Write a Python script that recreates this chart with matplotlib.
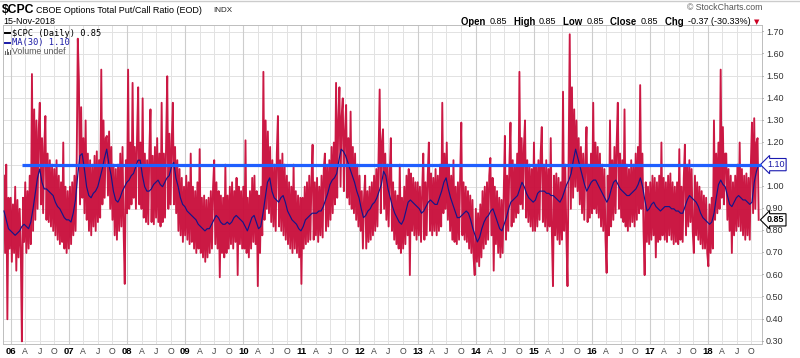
import datetime as dt
import numpy as np
import pandas as pd
import matplotlib
matplotlib.use("Agg")
import matplotlib.pyplot as plt
import matplotlib.dates as mdates
import matplotlib.transforms as mtransforms
from matplotlib.patches import Rectangle

# ---------------- data ----------------
start_date = "2005-11-18"
end_date = "2018-11-16"

# weekly samples of the daily $CPC put/call ratio (approximate envelope readings)
cpc_2005 = [1.05, 0.70, 1.10, 0.40, 0.95, 0.72]
cpc_2006 = [0.95, 0.66, 0.92, 0.70, 1.00, 0.62, 0.94, 0.68, 0.90, 0.72,
            0.30, 0.95, 0.75, 1.02, 0.70, 0.98, 0.72, 1.05, 0.74,
            1.51, 0.80, 1.35, 0.85, 1.30, 0.90, 1.25, 1.38, 0.92, 1.22, 0.88,
            1.18, 1.32, 0.85, 1.15, 0.84, 1.12, 0.82, 1.10, 0.80, 1.08, 0.78,
            1.12, 0.76, 1.05, 0.74, 1.02, 0.75, 1.20, 0.72, 1.00, 0.70, 0.98]
cpc_2007 = [0.72, 1.00, 0.74, 1.02, 0.78, 1.05, 0.80, 1.10, 1.67, 1.48,
            0.92, 1.36, 0.95, 1.22, 0.88, 1.30, 0.85, 1.15, 0.80, 1.12,
            0.78, 1.10, 0.82, 1.14, 0.80, 1.16, 0.84, 1.12, 0.86, 1.53,
            0.92, 1.30, 0.95, 1.22, 1.23, 0.96, 1.25, 0.90, 1.18, 0.85,
            1.10, 0.78, 1.08, 0.76, 1.10, 0.80, 1.15, 0.82, 1.18, 0.80,
            0.56, 1.12]
cpc_2008 = [0.88, 1.53, 0.90, 1.20, 0.92, 1.47, 0.95, 1.18, 0.90, 1.22,
            1.45, 0.92, 1.20, 0.90, 1.40, 0.86, 1.15, 0.84, 1.12, 0.83,
            1.16, 1.35, 0.84, 1.14, 0.83, 1.18, 0.86, 1.22, 0.84, 1.15,
            0.82, 1.38, 0.84, 1.15, 0.86, 1.20, 1.50, 0.90, 1.24, 0.92,
            1.20, 1.38, 0.92, 1.18, 0.88, 1.12, 0.80, 1.08, 0.78, 1.04,
            0.75, 1.00]
cpc_2009 = [0.78, 1.05, 0.76, 1.02, 0.74, 1.15, 0.75, 1.00, 0.72, 0.98,
            0.70, 1.02, 0.72, 1.17, 0.70, 0.95, 0.68, 0.96, 0.66, 0.94,
            0.68, 0.95, 0.70, 0.98, 0.72, 1.00, 1.12, 0.74, 1.02, 0.72,
            0.98, 0.59, 0.96, 0.70, 0.95, 0.68, 1.10, 0.70, 0.96, 0.72,
            1.00, 0.74, 1.02, 0.72, 0.98, 0.75, 1.04, 0.60, 1.00, 0.74,
            0.98, 0.72]
cpc_2010 = [1.00, 0.72, 1.21, 0.70, 0.95, 0.68, 0.98, 0.72, 1.04, 0.75,
            1.05, 0.74, 0.98, 0.55, 0.96, 0.70, 1.00, 0.78, 1.52, 0.85,
            1.30, 0.90, 1.25, 0.88, 1.18, 0.84, 1.12, 0.82, 1.10, 0.80,
            1.15, 1.32, 0.82, 1.12, 0.80, 1.15, 0.78, 1.10, 0.76, 1.05,
            0.74, 1.02, 0.72, 1.00, 0.70, 1.10, 0.72, 0.98, 0.70, 0.96,
            0.68, 0.95]
cpc_2011 = [0.56, 0.95, 0.72, 1.00, 0.74, 1.02, 0.75, 1.05, 0.76, 1.03,
            1.19, 0.76, 1.02, 0.78, 1.04, 0.75, 1.00, 0.78, 1.05, 0.77,
            1.08, 1.15, 0.80, 1.10, 0.82, 1.12, 0.85, 1.18, 0.88, 1.20,
            0.92, 1.47, 0.95, 1.30, 1.45, 1.00, 1.32, 1.40, 0.98, 1.25,
            1.37, 0.95, 1.22, 0.92, 1.34, 0.90, 1.18, 0.88, 1.15, 0.85,
            1.10, 0.82]
cpc_2012 = [1.05, 0.80, 0.98, 0.72, 0.95, 1.05, 0.72, 0.98, 0.75, 1.00,
            0.76, 1.02, 0.78, 1.05, 0.80, 1.08, 0.82, 1.12, 1.44, 0.88,
            1.20, 1.26, 0.90, 1.15, 0.85, 1.10, 0.82, 1.05, 1.22, 0.80,
            1.02, 0.76, 0.98, 0.74, 0.96, 0.72, 1.10, 0.70, 0.95, 0.72,
            1.00, 0.74, 1.05, 0.78, 1.08, 0.60, 1.06, 0.80, 1.04, 0.78,
            1.02, 0.76]
cpc_2013 = [1.02, 0.78, 1.00, 0.75, 0.98, 1.15, 0.76, 1.02, 0.78, 1.05,
            1.20, 0.80, 1.06, 0.78, 1.04, 0.80, 1.08, 0.78, 1.05, 0.80,
            1.10, 0.82, 1.38, 0.88, 1.15, 0.90, 1.20, 0.85, 1.10, 0.80,
            1.05, 0.76, 1.12, 0.75, 1.00, 0.74, 1.02, 0.76, 1.05, 1.29,
            0.78, 1.02, 0.76, 1.00, 0.75, 0.98, 0.72, 0.96, 0.70, 0.94,
            0.68, 0.60]
cpc_2014 = [0.90, 0.66, 0.88, 0.64, 0.92, 0.68, 0.98, 0.72, 1.00, 0.74,
            1.02, 0.76, 1.05, 1.13, 0.78, 1.04, 0.62, 1.00, 0.74, 0.98,
            0.70, 0.95, 0.68, 0.94, 0.70, 0.98, 1.23, 0.76, 1.05, 0.80,
            1.10, 1.29, 0.82, 1.12, 0.84, 1.10, 0.86, 1.15, 0.88, 1.52,
            0.92, 1.22, 0.90, 1.18, 1.30, 0.86, 1.12, 0.84, 1.10, 0.82,
            1.08, 0.80]
cpc_2015 = [1.20, 0.80, 1.10, 0.82, 1.12, 0.85, 1.15, 1.27, 0.84, 1.10,
            0.82, 1.12, 0.80, 1.08, 0.82, 1.22, 0.80, 0.55, 1.05, 0.78,
            1.06, 0.76, 1.04, 0.74, 1.02, 0.76, 1.43, 0.80, 1.10, 0.78,
            0.55, 1.12, 1.69, 0.90, 1.45, 0.95, 1.35, 1.00, 1.30, 0.98,
            1.22, 0.92, 1.18, 0.88, 1.15, 0.85, 1.12, 1.27, 0.84, 1.10,
            0.86, 1.15]
cpc_2016 = [0.88, 1.38, 0.90, 1.20, 0.88, 1.18, 0.86, 1.15, 0.82, 1.10,
            0.80, 1.08, 0.76, 0.61, 1.05, 0.78, 1.30, 0.82, 1.12, 0.85,
            1.18, 0.88, 1.20, 1.38, 0.90, 1.15, 0.86, 1.12, 0.84, 1.35,
            0.82, 1.10, 0.80, 1.08, 0.82, 1.12, 0.84, 1.10, 0.82, 1.15,
            0.85, 1.18, 0.88, 1.46, 0.90, 1.15, 0.80, 0.60, 1.02, 0.75,
            1.00, 0.74]
cpc_2017 = [1.02, 0.76, 1.05, 0.78, 1.04, 0.68, 1.02, 0.75, 1.05, 0.76,
            1.20, 0.78, 1.04, 0.76, 1.02, 0.75, 1.05, 0.78, 1.06, 0.76,
            1.02, 0.74, 1.00, 0.75, 1.02, 0.74, 1.17, 0.76, 1.00, 0.75,
            1.04, 1.19, 0.78, 1.10, 0.82, 1.12, 0.84, 1.08, 0.80, 0.70,
            1.05, 0.78, 1.02, 0.76, 1.00, 0.74, 0.98, 0.72, 0.96, 0.72,
            0.95, 0.70]
cpc_2018 = [0.64, 0.92, 0.70, 0.95, 0.72, 1.30, 0.85, 1.15, 0.88, 1.20,
            0.90, 1.53, 0.95, 1.27, 0.92, 1.15, 1.15, 0.85, 1.08, 0.80,
            1.05, 0.70, 1.02, 0.78, 1.05, 0.80, 1.10, 0.82, 1.20, 0.80,
            1.08, 0.78, 1.05, 0.76, 1.06, 0.78, 1.04, 0.76, 1.10, 1.29,
            0.88, 1.31, 0.90, 1.20, 1.22, 0.85]

# 30-day moving average, sampled every two weeks
ma_2005 = [0.89, 0.85, 0.81]
ma_2006 = [0.80, 0.79, 0.78, 0.79, 0.80, 0.82, 0.83, 0.82, 0.81, 0.84, 0.90, 0.97, 1.04,
           1.08, 1.02, 0.99, 0.99, 0.98, 0.97, 0.96, 0.93, 0.91, 0.90, 0.88, 0.86, 0.85]
ma_2007 = [0.85, 0.84, 0.88, 0.94, 1.05, 1.14, 1.15, 1.08, 1.00, 0.96, 0.95, 0.97, 0.98,
           1.00, 1.04, 1.08, 1.13, 1.17, 1.10, 1.05, 0.98, 0.94, 0.93, 0.95, 0.98, 1.00]
ma_2008 = [1.02, 1.03, 1.05, 1.06, 1.09, 1.12, 1.12, 1.05, 1.00, 0.98, 0.98, 0.99, 1.01,
           1.02, 1.03, 1.01, 1.00, 1.02, 1.04, 1.05, 1.09, 1.11, 1.04, 1.00, 0.95, 0.92]
ma_2009 = [0.91, 0.89, 0.88, 0.87, 0.86, 0.85, 0.83, 0.82, 0.81, 0.80, 0.81, 0.81, 0.83,
           0.85, 0.87, 0.86, 0.84, 0.83, 0.83, 0.84, 0.83, 0.84, 0.86, 0.87, 0.86, 0.85]
ma_2010 = [0.84, 0.82, 0.80, 0.83, 0.86, 0.87, 0.84, 0.81, 0.82, 0.88, 0.95, 1.02, 1.04,
           0.98, 0.95, 0.94, 0.93, 0.95, 0.96, 0.93, 0.89, 0.87, 0.85, 0.84, 0.83, 0.81]
ma_2011 = [0.80, 0.82, 0.85, 0.86, 0.87, 0.88, 0.88, 0.88, 0.89, 0.89, 0.91, 0.94, 0.97,
           1.01, 1.03, 1.04, 1.06, 1.12, 1.17, 1.16, 1.14, 1.11, 1.08, 1.05, 1.02, 0.98]
ma_2012 = [0.95, 0.90, 0.86, 0.87, 0.89, 0.90, 0.92, 0.93, 0.95, 0.98, 1.01, 1.07, 1.05,
           0.99, 0.95, 0.91, 0.88, 0.86, 0.84, 0.83, 0.85, 0.89, 0.93, 0.94, 0.93, 0.92]
ma_2013 = [0.91, 0.90, 0.88, 0.89, 0.91, 0.93, 0.94, 0.93, 0.92, 0.92, 0.95, 0.98, 1.02,
           1.04, 0.99, 0.95, 0.92, 0.89, 0.86, 0.86, 0.87, 0.88, 0.89, 0.88, 0.85, 0.81]
ma_2014 = [0.78, 0.75, 0.77, 0.81, 0.84, 0.86, 0.87, 0.89, 0.90, 0.87, 0.84, 0.81, 0.80,
           0.83, 0.86, 0.90, 0.93, 0.94, 0.95, 0.96, 0.99, 1.02, 1.00, 0.97, 0.95, 0.94]
ma_2015 = [0.93, 0.94, 0.97, 0.98, 0.98, 0.98, 0.97, 0.97, 0.96, 0.96, 0.95, 0.94, 0.93,
           0.95, 0.98, 1.01, 1.03, 1.06, 1.12, 1.17, 1.13, 1.09, 1.05, 1.01, 0.98, 1.00]
ma_2016 = [1.02, 1.03, 1.03, 1.01, 0.99, 0.97, 0.95, 0.93, 0.95, 0.99, 1.02, 1.03, 1.01,
           0.99, 0.98, 0.97, 0.96, 0.96, 0.97, 0.98, 0.99, 1.01, 1.04, 1.00, 0.94, 0.89]
ma_2017 = [0.90, 0.92, 0.93, 0.91, 0.90, 0.89, 0.90, 0.91, 0.91, 0.91, 0.90, 0.90, 0.89,
           0.89, 0.88, 0.88, 0.91, 0.94, 0.96, 0.95, 0.94, 0.93, 0.91, 0.88, 0.86, 0.85]
ma_2018 = [0.84, 0.83, 0.84, 0.88, 0.95, 1.01, 1.03, 1.01, 1.00, 0.96, 0.92, 0.91, 0.93,
           0.95, 0.96, 0.95, 0.94, 0.94, 0.93, 0.92, 0.93, 1.02, 1.07, 1.10]

last_close = 0.85
last_ma = 1.10
hline_level = 1.10
hline_start = "2006-03-10"
hline_end = "2018-11-28"

ytick_values = [1.70, 1.60, 1.50, 1.40, 1.30, 1.20, 1.00, 0.90, 0.80, 0.70, 0.60, 0.50, 0.40, 0.30]
ygrid_values = [1.70, 1.60, 1.50, 1.40, 1.30, 1.20, 1.10, 1.00, 0.90, 0.80, 0.70, 0.60, 0.50, 0.40, 0.30]
years = list(range(2006, 2019))
quarter_months = [1, 4, 7, 10]
month_letters = ["", "A", "J", "O"]

header_runs = [("Open ", "bold"), ("0.85", "normal"), ("High ", "bold"), ("0.85", "normal"),
               ("Low ", "bold"), ("0.85", "normal"), ("Close ", "bold"), ("0.85", "normal"),
               ("Chg ", "bold"), ("-0.37 (-30.33%)", "normal")]

cpc = (cpc_2005 + cpc_2006 + cpc_2007 + cpc_2008 + cpc_2009 + cpc_2010 + cpc_2011 +
       cpc_2012 + cpc_2013 + cpc_2014 + cpc_2015 + cpc_2016 + cpc_2017 + cpc_2018)
ma30 = (ma_2005 + ma_2006 + ma_2007 + ma_2008 + ma_2009 + ma_2010 + ma_2011 +
        ma_2012 + ma_2013 + ma_2014 + ma_2015 + ma_2016 + ma_2017 + ma_2018)

dates = pd.date_range(start_date, end_date, periods=len(cpc))
ma_dates = pd.date_range(start_date, end_date, periods=len(ma30))

# ---------------- figure ----------------
W, H = 800, 358
SANS = ["Liberation Sans", "DejaVu Sans"]
MONO = ["DejaVu Sans Mono"]
plt.rcParams["font.family"] = SANS

fig = plt.figure(figsize=(W / 100, H / 100), dpi=100)
fig.patch.set_facecolor("white")

ax_left, ax_right, ax_top, ax_bottom = 3, 762, 25, 344
ax = fig.add_axes([ax_left / W, 1 - ax_bottom / H, (ax_right - ax_left) / W, (ax_bottom - ax_top) / H])

x_jan06 = mdates.date2num(dt.datetime(2006, 1, 1))
px_per_day = 58.08 / 365.25
ax.set_xlim(x_jan06 - (11 - ax_left) / px_per_day, x_jan06 + (ax_right - 11) / px_per_day)
ax.set_ylim(0.288, 1.732)

# grid
for v in ygrid_values:
    ax.axhline(v, color="#e2e2e2", lw=0.7, zorder=0)
for yr in years:
    for m in quarter_months:
        xd = mdates.date2num(dt.datetime(yr, m, 1))
        ax.axvline(xd, color="#cdcdcd" if m == 1 else "#e2e2e2", lw=0.8 if m == 1 else 0.7, zorder=0)

# series
ax.plot(dates, cpc, color="#c90c3a", lw=1.35, alpha=0.95, zorder=2)
ax.plot(ma_dates, ma30, color="#14148a", lw=0.85, zorder=3)
ax.hlines(hline_level, mdates.date2num(pd.Timestamp(hline_start)), mdates.date2num(pd.Timestamp(hline_end)),
          color="#1f5fff", lw=2.3, zorder=4)

ax.set_xticks([])
ax.set_yticks([])
for s in ax.spines.values():
    s.set_color("#bdbdbd")
    s.set_linewidth(0.7)

# right axis labels
trans = mtransforms.blended_transform_factory(ax.transAxes, ax.transData)
for v in ytick_values:
    ax.text(1.0, v, "-", transform=trans, ha="left", va="center", fontsize=5, color="#888888")
    ax.text(1.0 + 4 / 759, v, f"{v:.2f}", transform=trans, ha="left", va="center",
            fontsize=6.5, color="#333333")
ax.text(1.0 + 5 / 759, last_ma, f"{last_ma:.2f}", transform=trans, ha="left", va="center",
        fontsize=6.5, color="#1a1aa6",
        bbox=dict(boxstyle="larrow,pad=0.18", fc="white", ec="#1a1ab0", lw=0.8))
ax.text(1.0 + 5 / 759, last_close, f"{last_close:.2f}", transform=trans, ha="left", va="center",
        fontsize=6.5, color="black", fontweight="bold",
        bbox=dict(boxstyle="larrow,pad=0.18", fc="white", ec="black", lw=0.8))

# bottom labels
for yr in years:
    for m, lt in zip(quarter_months, month_letters):
        xd = mdates.date2num(dt.datetime(yr, m, 1))
        xp = ax_left + (xd - ax.get_xlim()[0]) * px_per_day
        if m == 1:
            fig.text(xp / W, 1 - 352 / H, f"{yr % 100:02d}", ha="center", va="center",
                     fontsize=6.8, fontweight="bold", color="black")
        else:
            fig.text(xp / W, 1 - 352 / H, lt, ha="center", va="center", fontsize=6.3, color="#444444")

# header
fig.add_artist(plt.Line2D([0, 1], [1 - 0.8 / H, 1 - 0.8 / H], color="#cccccc", lw=1.0, transform=fig.transFigure))
fig.text(2 / W, 1 - 10 / H, "\\$CPC", fontsize=8.8, fontweight="bold", va="center", ha="left")
fig.text(36 / W, 1 - 10.5 / H, "CBOE Options Total Put/Call Ratio (EOD)", fontsize=6.5, va="center", ha="left")
fig.text(213 / W, 1 - 10.5 / H, "INDX", fontsize=5.8, va="center", ha="left", color="#222222")
fig.text(3 / W, 1 - 21 / H, "15-Nov-2018", fontsize=6.5, va="center", ha="left")
fig.text(762 / W, 1 - 7.5 / H, "\u00a9 StockCharts.com", fontsize=6.3, va="center", ha="right", color="#555555")

renderer = fig.canvas.get_renderer()
texts, widths = [], []
for s, w in header_runs:
    t = fig.text(0, 1 - 22 / H, s, fontsize=6.9 if w == "bold" else 6.5, fontweight=w, va="center", ha="left")
    texts.append(t)
    widths.append(t.get_window_extent(renderer).width)
tri = fig.text(0, 1 - 22.5 / H, "\u25bc", fontsize=5, color="#cc0022", va="center", ha="left", family=["DejaVu Sans"])
tri_w = tri.get_window_extent(renderer).width
gaps = []
for i, (s, w) in enumerate(header_runs):
    if w == "bold":
        gaps.append(1.5)
    else:
        gaps.append(6.5)
total = sum(widths) + sum(gaps) + tri_w
x = 762 - total
for t, wd, g in zip(texts, widths, gaps):
    t.set_x(x / W)
    x += wd + g
tri.set_x((x - 3) / W)

# legend
fig.add_artist(plt.Line2D([5 / W, 10 / W], [1 - 33 / H, 1 - 33 / H], color="black", lw=1.4, transform=fig.transFigure))
fig.text(12 / W, 1 - 33 / H, "\\$CPC (Daily) 0.85", fontsize=6.3, family=MONO, va="center", ha="left", color="black")
fig.add_artist(plt.Line2D([5 / W, 10 / W], [1 - 43 / H, 1 - 43 / H], color="#1a1aa6", lw=1.4, transform=fig.transFigure))
fig.text(12 / W, 1 - 43 / H, "MA(30) 1.10", fontsize=6.3, family=MONO, va="center", ha="left", color="#1a1aa6")
for i, hgt in enumerate([4, 6, 3, 5]):
    fig.add_artist(Rectangle(((5 + i * 1.6) / W, 1 - 55 / H), 1.1 / W, hgt / H, transform=fig.transFigure,
                             color="#666666", lw=0))
fig.text(12 / W, 1 - 52 / H, "Volume undef", fontsize=6.3, family=SANS, va="center", ha="left", color="#555555")

fig.savefig("out.png", dpi=100, facecolor="white")
